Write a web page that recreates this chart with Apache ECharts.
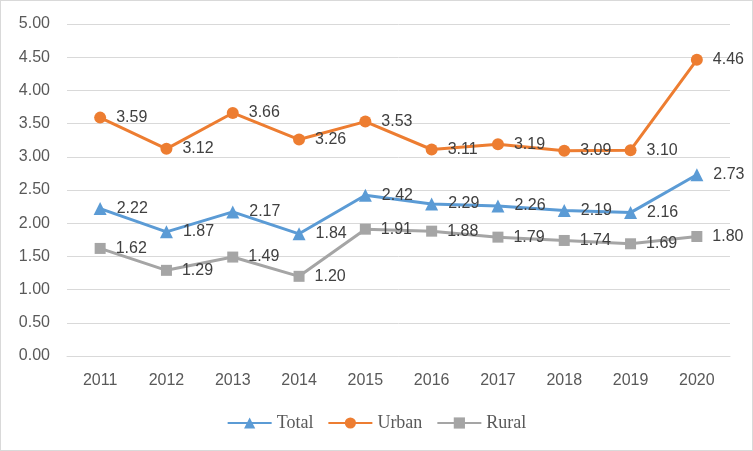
<!DOCTYPE html>
<html><head><meta charset="utf-8">
<script src="https://cdn.jsdelivr.net/npm/echarts@6/dist/echarts.min.js"></script>
<style>html,body{margin:0;padding:0;background:#fff}#c{width:753px;height:451px;box-sizing:border-box;border:1px solid #d9d9d9;}</style>
</head><body><div id="c"></div>
<script>
const categories = ['2011','2012','2013','2014','2015','2016','2017','2018','2019','2020'];
const totalValues = [2.22,1.87,2.17,1.84,2.42,2.29,2.26,2.19,2.16,2.73];
const urbanValues = [3.59,3.12,3.66,3.26,3.53,3.11,3.19,3.09,3.10,4.46];
const ruralValues = [1.62,1.29,1.49,1.20,1.91,1.88,1.79,1.74,1.69,1.80];

const chart = echarts.init(document.getElementById('c'));
const lbl = {show:true,position:'right',distance:10,color:'#404040',fontFamily:'Liberation Sans',fontSize:16,formatter:p=>p.value.toFixed(2)};
function mk(name,data,color,symbol,size){
  return {name,type:'line',data,symbol,symbolSize:size,itemStyle:{color},lineStyle:{color,width:3},label:lbl,z:3};
}
chart.setOption({
  animation:false,
  grid:{left:66,right:22,top:23,bottom:94},
  legend:{bottom:13,left:'center',itemWidth:44,itemHeight:14,itemGap:14,
    textStyle:{fontFamily:'Liberation Serif',fontSize:18,color:'#595959'},
    data:['Total','Urban','Rural']},
  xAxis:{type:'category',data:categories,boundaryGap:true,
    axisLine:{show:true,lineStyle:{color:'#d9d9d9'}},axisTick:{show:false},
    axisLabel:{color:'#595959',fontFamily:'Liberation Sans',fontSize:16,margin:17}},
  yAxis:{type:'value',min:0,max:5,interval:0.5,
    axisLine:{show:false},axisTick:{show:false},
    splitLine:{lineStyle:{color:'#d9d9d9',width:1}},
    axisLabel:{color:'#595959',fontFamily:'Liberation Sans',fontSize:16,margin:17,formatter:v=>v.toFixed(2)}},
  series:[
    mk('Total',totalValues,'#5b9bd5','triangle',13),
    mk('Urban',urbanValues,'#ed7d31','circle',12),
    mk('Rural',ruralValues,'#a5a5a5','rect',11)
  ]
});
</script></body></html>
